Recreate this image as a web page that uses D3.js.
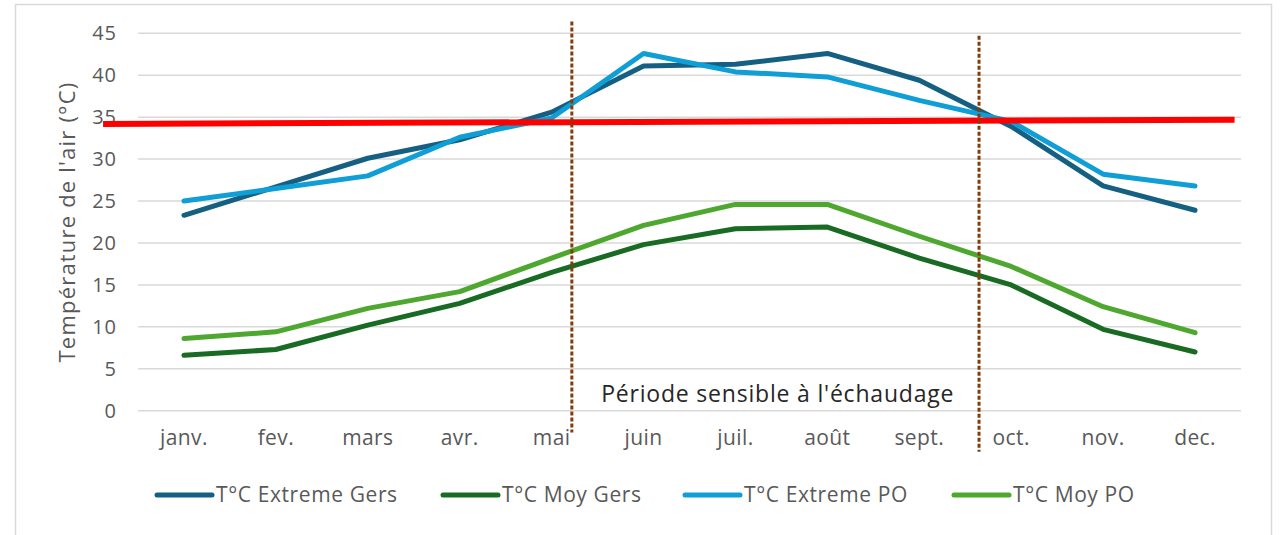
<!DOCTYPE html>
<html>
<head>
<meta charset="utf-8">
<script src="https://cdn.jsdelivr.net/npm/d3@7"></script>
<style>
  body { margin: 0; background: #fff; }
  text { font-family: "Open Sans", Roboto, sans-serif; }
</style>
</head>
<body>
<script>
// donnees
var mois = ["janv.", "fev.", "mars", "avr.", "mai", "juin", "juil.", "août", "sept.", "oct.", "nov.", "dec."];
var extremeGers = [23.3, 26.7, 30.1, 32.3, 35.6, 41.1, 41.3, 42.6, 39.4, 33.9, 26.8, 23.9];
var moyGers = [6.6, 7.3, 10.2, 12.8, 16.5, 19.8, 21.7, 21.9, 18.2, 15.0, 9.7, 7.0];
var extremePO = [25.0, 26.5, 28.0, 32.6, 34.9, 42.6, 40.4, 39.8, 37.0, 34.5, 28.2, 26.8];
var moyPO = [8.6, 9.4, 12.2, 14.2, 18.2, 22.1, 24.6, 24.6, 20.8, 17.2, 12.4, 9.3];
var yTicks = [0, 5, 10, 15, 20, 25, 30, 35, 40, 45];

var series = [
  { nom: "T°C Extreme Gers", valeurs: extremeGers, couleur: "#156082" },
  { nom: "T°C Moy Gers", valeurs: moyGers, couleur: "#196B24" },
  { nom: "T°C Extreme PO", valeurs: extremePO, couleur: "#0F9ED5" },
  { nom: "T°C Moy PO", valeurs: moyPO, couleur: "#4EA72E" }
];

// seuil rouge (index de mois, valeur) et periode sensible
var seuil = [[-0.88, 34.2], [11.43, 34.7]];
var periode = [
  { pos: 4.22, haut: 46.4, bas: -2.6 },
  { pos: 8.65, haut: 44.7, bas: -4.9 }
];

var width = 1281;
var height = 535;

var svg = d3.select("body")
            .append("svg")
            .attr("width", width)
            .attr("height", height);

// cadre
svg.append("rect")
   .attr("x", 15.5)
   .attr("y", 4.5)
   .attr("width", 1256)
   .attr("height", 540)
   .attr("fill", "#fff")
   .attr("stroke", "#d9d9d9")
   .attr("stroke-width", 1.5);

var x = d3.scaleBand()
          .domain(mois)
          .range([138, 1241]);

var xi = d3.scaleLinear()
           .domain([0, 11])
           .range([x(mois[0]) + x.bandwidth() / 2, x(mois[11]) + x.bandwidth() / 2]);

var y = d3.scaleLinear()
          .domain([0, 45])
          .range([410.7, 33.3]);

// grille
svg.selectAll(".grille")
   .data(yTicks)
   .enter()
     .append("line")
     .attr("x1", 138)
     .attr("x2", 1241)
     .attr("y1", function(d) { return y(d); })
     .attr("y2", function(d) { return y(d); })
     .attr("stroke", "#d9d9d9")
     .attr("stroke-width", 1.5);

// axe y
var axeY = svg.append("g")
              .attr("transform", "translate(117,0)")
              .call(d3.axisLeft(y).tickValues(yTicks).tickSize(0).tickPadding(0));
axeY.select(".domain").remove();
axeY.selectAll("text")
    .attr("font-size", 20)
    .attr("letter-spacing", 1)
    .attr("fill", "#595959")
    .style("font-family", "'Open Sans', sans-serif");

// axe x
var axeX = svg.append("g")
              .attr("transform", "translate(0,410.7)")
              .call(d3.axisBottom(x).tickSize(0).tickPadding(19));
axeX.select(".domain").remove();
axeX.selectAll("text")
    .attr("font-size", 21)
    .attr("letter-spacing", 0.4)
    .attr("fill", "#595959")
    .style("font-family", "'Open Sans', sans-serif");

// titre axe y
svg.append("text")
   .attr("transform", "translate(75,222) rotate(-90)")
   .attr("text-anchor", "middle")
   .attr("font-size", 22)
   .attr("letter-spacing", 1.2)
   .attr("fill", "#595959")
   .text("Température de l'air (°C)");

// courbes
var ligne = d3.line()
              .x(function(d, i) { return xi(i); })
              .y(function(d) { return y(d); });

svg.selectAll(".serie")
   .data(series)
   .enter()
     .append("path")
     .attr("d", function(d) { return ligne(d.valeurs); })
     .attr("fill", "none")
     .attr("stroke", function(d) { return d.couleur; })
     .attr("stroke-width", 5)
     .attr("stroke-linecap", "round")
     .attr("stroke-linejoin", "round");

// seuil rouge
svg.append("path")
   .attr("d", d3.line().x(function(d) { return xi(d[0]); }).y(function(d) { return y(d[1]); })(seuil))
   .attr("stroke", "#ff0000")
   .attr("stroke-width", 6)
   .attr("fill", "none");

// limites de la periode sensible
svg.selectAll(".periode")
   .data(periode)
   .enter()
     .append("line")
     .attr("x1", function(d) { return xi(d.pos); })
     .attr("x2", function(d) { return xi(d.pos); })
     .attr("y1", function(d) { return y(d.haut); })
     .attr("y2", function(d) { return y(d.bas); })
     .attr("stroke", "#843C0C")
     .attr("stroke-width", 3)
     .attr("stroke-dasharray", "4,2");

svg.append("text")
   .attr("x", xi(6.46))
   .attr("y", y(1.0))
   .attr("text-anchor", "middle")
   .attr("font-size", 23)
   .attr("letter-spacing", 0.8)
   .attr("fill", "#262626")
   .text("Période sensible à l'échaudage");

// legende
var legendeX = [155, 441, 683, 952];
var legende = svg.selectAll(".legende")
                 .data(series)
                 .enter()
                   .append("g")
                   .attr("transform", function(d, i) { return "translate(" + legendeX[i] + ",495)"; });

legende.append("line")
       .attr("x1", 2)
       .attr("x2", 57)
       .attr("stroke", function(d) { return d.couleur; })
       .attr("stroke-width", 5)
       .attr("stroke-linecap", "round");

legende.append("text")
       .attr("x", 61)
       .attr("y", 7)
       .attr("font-size", 21)
       .attr("letter-spacing", 0.6)
       .attr("fill", "#595959")
       .text(function(d) { return d.nom; });
</script>
</body>
</html>
